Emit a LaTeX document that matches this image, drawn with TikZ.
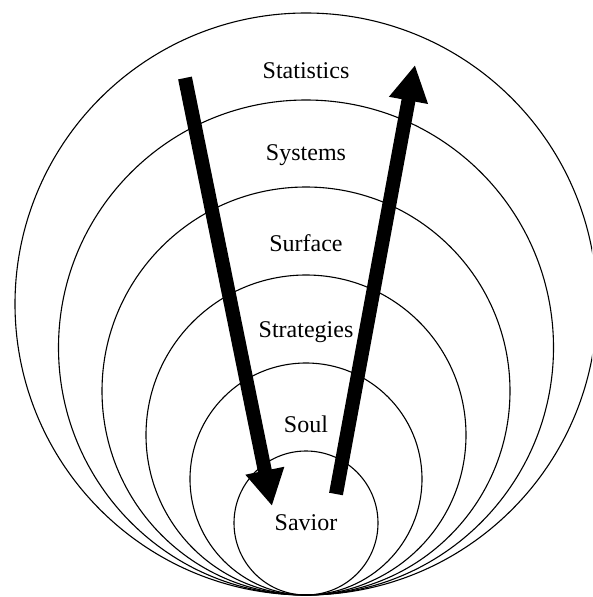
\documentclass[tikz,border=0pt]{standalone}
\usepackage{fontspec}
\setmainfont{Liberation Serif}
\usetikzlibrary{arrows.meta}
\tikzset{
  ring/.style={line width=1.1pt},
  bigarrow/.style={line width=14pt,-{Triangle[width=37pt,length=36pt]}},
  level/.style={font=\fontsize{24}{28}\selectfont,inner sep=1pt}
}
\begin{document}
\begin{tikzpicture}[x=1pt,y=-1pt]
  \useasboundingbox (0,0) rectangle (592,597);
  \clip (0,0) rectangle (592,597);
  % nested rings, all touching at the bottom
  \foreach \r in {291,247.5,204,160,116,72}{
    \draw[ring] (306,{595-\r}) circle (\r pt);
  }
  \node[level] (stat) at (306,71) {Statistics};
  \node[level] (syst) at (306,155) {Systems};
  \node[level] (surf) at (306,243) {Surface};
  \node[level] (strat) at (306,332) {Strategies};
  \node[level] (soul) at (306,424) {Soul};
  \node[level] (sav) at (306,523) {Savior};
  % down and up again
  \coordinate (downstart) at (185,78);
  \coordinate (downend) at (272,506);
  \coordinate (upstart) at (336,494);
  \coordinate (upend) at (415,65);
  \draw[bigarrow] (downstart) -- (downend);
  \draw[bigarrow] (upstart) -- (upend);
\end{tikzpicture}
\end{document}
